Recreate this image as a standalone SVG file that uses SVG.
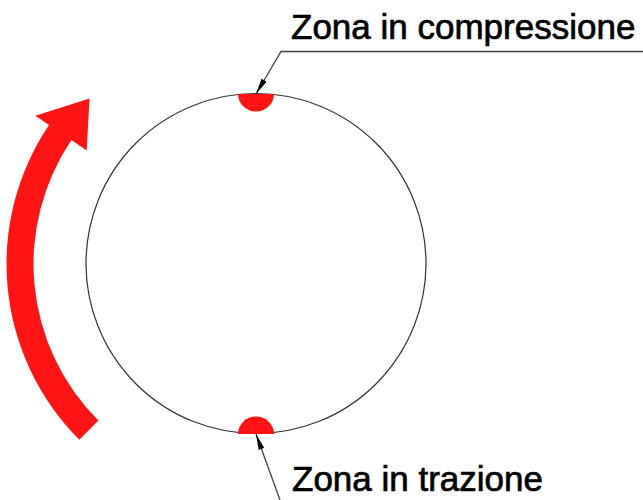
<svg xmlns="http://www.w3.org/2000/svg" width="643" height="500" viewBox="0 0 643 500">
<style>
.lbl{font-family:"Liberation Sans",Arial,sans-serif;font-size:35px;fill:#000;stroke:#000;stroke-width:0.7}
.lead{fill:none;stroke:#444;stroke-width:1.3}
.zone{fill:#ff1414}
</style>
<defs>
<marker id="ah" viewBox="0 0 16 6" refX="16" refY="3" markerWidth="16" markerHeight="6" markerUnits="userSpaceOnUse" orient="auto">
<path d="M0 0 L16 3 L0 6 Z" fill="#000"/>
</marker>
</defs>
<rect width="643" height="500" fill="#fff"/>
<g id="rotation">
<path class="zone" d="M79.3 439.7 A248.5 248.5 0 0 1 49.0 125.0 L35.3 115.8 L89.5 98.5 L86.7 150.5 L71.4 140.1 A221.5 221.5 0 0 0 98.4 420.6 Z"/>
</g>
<g id="circle">
<circle cx="256" cy="263.5" r="170" fill="none" stroke="#333" stroke-width="1.2"/>
</g>
<g id="compression-zone">
<path class="zone" d="M238 94 A18 17.5 0 0 0 274 94 Z"/>
</g>
<g id="tension-zone">
<path class="zone" d="M238 434 A18 17.5 0 0 1 274 434 Z"/>
</g>
<g id="connectors">
<polyline class="lead" points="643,51.5 281,51.5 256,94" marker-end="url(#ah)"/>
<polyline class="lead" points="280,500 256,434" marker-end="url(#ah)"/>
</g>
<g id="label-compression">
<text class="lbl" x="291" y="39">Zona in compressione</text>
</g>
<g id="label-tension">
<text class="lbl" x="292" y="491">Zona in trazione</text>
</g>
</svg>
